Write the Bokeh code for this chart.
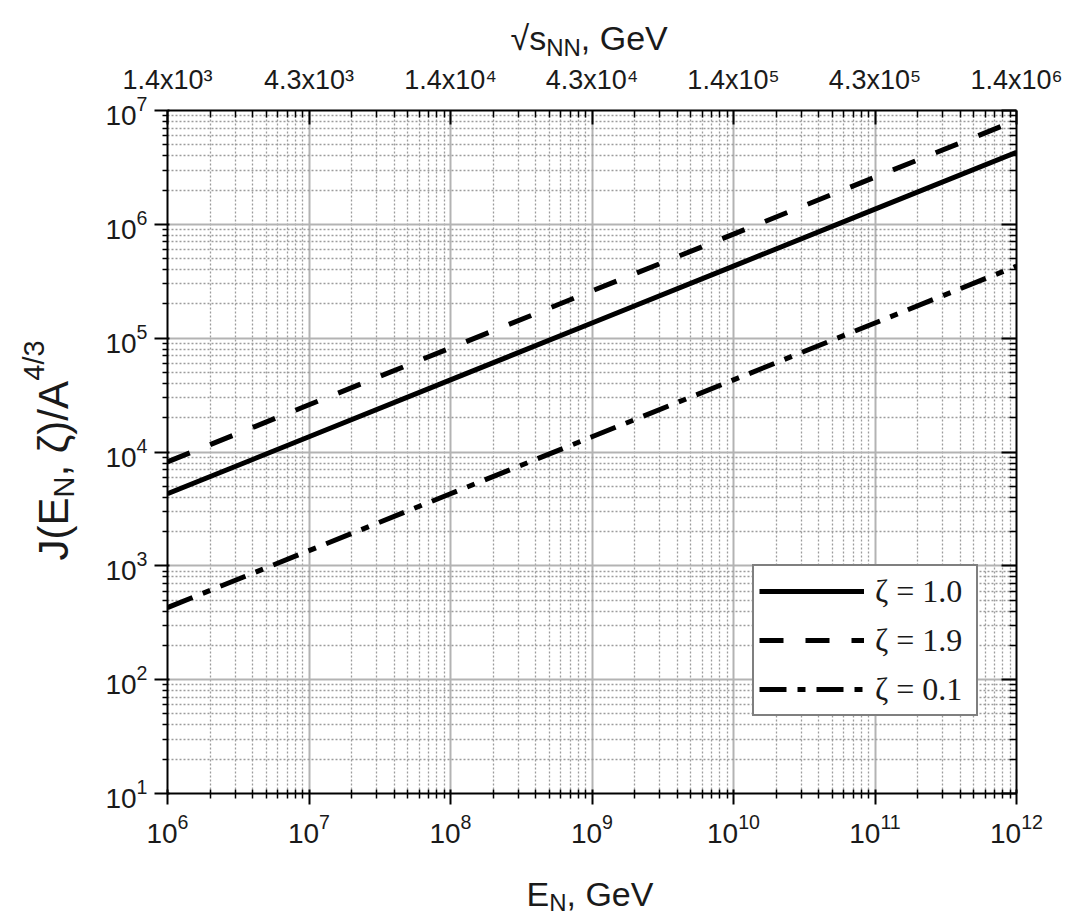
import math
from bokeh.plotting import figure
from bokeh.models import LogAxis, FixedTicker, Legend, LegendItem, Range1d
from bokeh.core.properties import value
from bokeh.embed import file_html
from bokeh.resources import INLINE

# ---- data ----
energy_gev = [1e6, 1e7, 1e8, 1e9, 1e10, 1e11, 1e12]
j_zeta_1_0 = [4.3e3, 1.36e4, 4.3e4, 1.36e5, 4.3e5, 1.36e6, 4.3e6]
j_zeta_1_9 = [8.2e3, 2.6e4, 8.2e4, 2.6e5, 8.2e5, 2.6e6, 8.2e6]
j_zeta_0_1 = [4.3e2, 1.36e3, 4.3e3, 1.36e4, 4.3e4, 1.36e5, 4.3e5]
legend_labels = ["ζ = 1.0", "ζ = 1.9", "ζ = 0.1"]

x_major = [1e6, 1e7, 1e8, 1e9, 1e10, 1e11, 1e12]
y_major = [1e1, 1e2, 1e3, 1e4, 1e5, 1e6, 1e7]
top_tick_labels = ["1.4x10³", "4.3x10³", "1.4x10⁴", "4.3x10⁴",
                   "1.4x10⁵", "4.3x10⁵", "1.4x10⁶"]

def minors(majors):
    out = []
    for m in majors[:-1]:
        for k in range(2, 10):
            out.append(m * k)
    return out

x_minor = minors(x_major)
y_minor = minors(y_major)

FRAME_L, FRAME_R, FRAME_T, FRAME_B = 167, 1016, 110, 793
W, H = 1073, 917

p = figure(width=W, height=H, x_axis_type="log", y_axis_type="log",
           x_range=Range1d(1e6, 1e12), y_range=Range1d(1e1, 1e7),
           output_backend="svg", toolbar_location=None,
           min_border_left=FRAME_L, min_border_right=W - FRAME_R,
           min_border_top=FRAME_T, min_border_bottom=H - FRAME_B,
           background_fill_color="white", border_fill_color="white",
           outline_line_color=None)

FONT = "Liberation Sans"
TXT = "#1a1a1a"

def style_axis(ax, size="28px"):
    ax.axis_line_color = "black"
    ax.axis_line_width = 2
    ax.major_tick_line_color = "black"
    ax.major_tick_line_width = 2
    ax.minor_tick_line_color = "black"
    ax.minor_tick_line_width = 1.5
    ax.major_label_text_font = FONT
    ax.major_label_text_font_size = size
    ax.major_label_text_color = TXT

xt = FixedTicker(ticks=x_major, minor_ticks=x_minor)
yt = FixedTicker(ticks=y_major, minor_ticks=y_minor)

bx = p.xaxis[0]
bx.ticker = xt
style_axis(bx)
bx.major_tick_out = 11
bx.major_tick_in = 4
bx.minor_tick_out = 5
bx.minor_tick_in = 4
bx.major_label_standoff = 9

ly = p.yaxis[0]
ly.ticker = yt
style_axis(ly)
ly.major_tick_out = 13
ly.major_tick_in = 2
ly.minor_tick_out = 5
ly.minor_tick_in = 0
ly.major_label_standoff = 7

top = LogAxis(ticker=xt,
              major_label_overrides={t: s for t, s in zip(x_major, top_tick_labels)})
style_axis(top, "27px")
top.major_tick_in = 14
top.major_tick_out = 0
top.minor_tick_in = 7
top.minor_tick_out = 0
top.major_label_standoff = 16
p.add_layout(top, "above")

right = LogAxis(ticker=yt, major_label_overrides={t: "" for t in y_major})
style_axis(right)
right.major_tick_in = 15
right.major_tick_out = 0
right.minor_tick_in = 7
right.minor_tick_out = 0
p.add_layout(right, "right")

for g, t in ((p.xgrid[0], xt), (p.ygrid[0], yt)):
    g.ticker = t
    g.grid_line_color = "#b3b3b3"
    g.grid_line_width = 2
    g.minor_grid_line_color = "#9c9c9c"
    g.minor_grid_line_width = 1.3
    g.minor_grid_line_dash = "2 2"

r1 = p.line(energy_gev, j_zeta_1_0, line_color="black", line_width=5)
r2 = p.line(energy_gev, j_zeta_1_9, line_color="black", line_width=5, line_dash="24 22")
r3 = p.line(energy_gev, j_zeta_0_1, line_color="black", line_width=5, line_dash="27 11 8 11")

legend = Legend(items=[LegendItem(label=legend_labels[0], renderers=[r1]),
                       LegendItem(label=legend_labels[1], renderers=[r2]),
                       LegendItem(label=legend_labels[2], renderers=[r3])],
                location=(752 - FRAME_L, FRAME_B - 716),
                glyph_width=105, glyph_height=40, label_height=40, label_width=96,
                label_standoff=11, padding=5, spacing=9, margin=0,
                label_text_font="Liberation Serif", label_text_font_size="32px",
                label_text_color=TXT,
                border_line_color="black", border_line_width=2,
                background_fill_color="white", background_fill_alpha=1.0)
p.add_layout(legend, "center")

# ---- transparent overlay figure (own root) carrying the axis titles, pixel coords ----
ov = figure(width=W, height=H, x_range=Range1d(0, W), y_range=Range1d(H, 0),
            output_backend="svg", toolbar_location=None, min_border=0,
            x_axis_location=None, y_axis_location=None,
            background_fill_alpha=0, border_fill_alpha=0, outline_line_color=None,
            styles={"position": "absolute", "top": "0px", "left": "0px"})
ov.grid.visible = False

def lab(text, x, y, size, angle=0.0):
    ov.text(x=[x], y=[y], text=[text], text_font=value(FONT),
            text_font_size=f"{size}px", text_color=TXT, text_align="left",
            text_baseline="alphabetic", angle=angle)

# bottom title: E_N, GeV
F = 34; S = 24
x0 = 526; base = 893
lab("E", x0, base, F)
x1 = x0 + 0.667 * F
lab("N", x1, base + 9, S)
x2 = x1 + 0.722 * S
lab(", GeV", x2, base, F)

# top title: sqrt(s)_NN, GeV
x0 = 510; base = 37
lab("√s", x0, base, F)
x1 = x0 + (0.549 + 0.5) * F
lab("NN", x1, base + 10, S)
x2 = x1 + 1.444 * S
lab(", GeV", x2, base, F)

# left title: J(E_N, ζ)/A^{4/3}, rotated
FY = 42; SY = 29
bxc = 53; y0 = 560
ang = math.pi / 2
lab("J(E", bxc, y0, FY, ang)
y1 = y0 - (0.5 + 0.333 + 0.667) * FY
lab("N", bxc + 10, y1, SY, ang)
y2 = y1 - 0.722 * SY
lab(", ζ)/A", bxc, y2, FY, ang)
y3 = y2 - (0.278 + 0.278 + 0.45 + 0.333 + 0.278 + 0.667) * FY
lab("4/3", bxc - 20, y3, SY, ang)

open("out.html", "w").write(file_html([p, ov], INLINE))
